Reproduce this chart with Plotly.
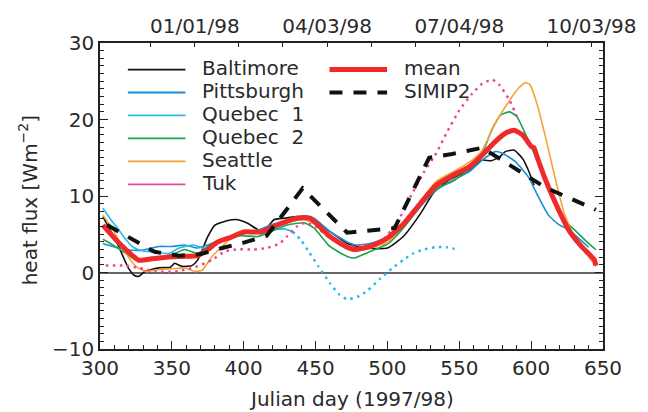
import plotly.graph_objects as go

# ---------------- data ----------------
balt_day = [302, 312, 320, 324, 327, 331, 341, 349, 352, 357, 364, 368, 375, 380, 389, 396, 403, 410, 415, 421, 428, 437, 446, 460, 472, 484, 500, 511, 523, 532, 543, 557, 566, 572, 578, 582, 588, 594, 598, 602]
balt_val = [7.3, 3.8, 0.5, -0.4, -0.5, 0.1, 0.6, 0.7, 1.2, 0.8, 0.9, 1.65, 4.7, 6.2, 6.8, 6.9, 6.4, 5.6, 5.6, 6.9, 7.1, 7.3, 7.3, 5.35, 3.8, 3.2, 3.2, 4.7, 7.7, 10.4, 12.1, 13.4, 14.7, 14.6, 15.1, 15.8, 16.0, 14.9, 13.4, 11.4]

pitt_day = [302, 309, 318, 329, 341, 350, 359, 368, 375, 384, 396, 407, 419, 432, 442, 449, 460, 472, 478, 488, 500, 511, 525, 534, 546, 557, 566, 575, 580, 589, 598, 605, 612, 619, 626, 633, 640]
pitt_val = [3.8, 3.4, 3.0, 2.9, 3.4, 3.4, 3.6, 3.2, 3.6, 4.3, 4.9, 5.35, 6.2, 6.9, 7.4, 7.1, 5.35, 4.0, 3.6, 3.8, 4.5, 6.0, 9.05, 10.8, 12.1, 13.2, 14.7, 15.8, 15.6, 14.5, 12.5, 9.9, 7.5, 6.3, 5.6, 4.5, 3.3]

queb1_day = [302, 308, 313, 318, 323, 330, 340, 348, 355, 365, 375, 385, 400, 410, 420, 428, 434]
queb1_val = [8.4, 6.8, 5.6, 4.3, 3.3, 2.8, 2.6, 2.5, 3.2, 3.6, 3.0, 4.3, 5.1, 5.5, 5.6, 5.7, 5.35]
queb1_dot_day = [434, 440, 445, 452, 460, 466, 472, 479, 486, 495, 503, 511, 518, 525, 533, 541, 549]
queb1_dot_val = [5.35, 4.2, 2.8, 0.8, -1.4, -2.8, -3.5, -3.2, -2.4, -0.8, 0.5, 1.65, 2.5, 3.0, 3.3, 3.3, 3.0]

queb2_day = [302, 309, 318, 327, 336, 346, 352, 359, 368, 378, 387, 398, 410, 419, 430, 442, 449, 460, 472, 477, 488, 500, 511, 525, 535, 546, 559, 566, 573, 579, 585, 590, 598, 605, 612, 621, 630, 640, 645]
queb2_val = [4.35, 3.6, 2.5, 1.45, 1.9, 2.1, 2.5, 3.0, 2.5, 3.8, 4.3, 4.8, 4.7, 5.35, 6.2, 6.5, 5.8, 3.4, 2.1, 1.9, 2.75, 3.7, 5.8, 9.2, 11.0, 12.0, 13.8, 15.6, 18.8, 20.6, 21.0, 20.4, 17.3, 14.3, 10.8, 7.3, 5.6, 3.8, 3.0]

seat_day = [302, 309, 318, 325, 332, 341, 350, 359, 366, 371, 378, 385, 391, 400, 414, 428, 442, 450, 460, 472, 477, 488, 500, 511, 523, 534, 548, 559, 566, 575, 585, 591, 596, 599, 604, 610, 617, 623, 630, 640, 645]
seat_val = [7.5, 5.6, 2.5, 0.8, 0.15, 0.4, 0.5, 0.6, 0.15, 0.3, 2.1, 3.4, 4.5, 5.1, 5.6, 6.45, 6.9, 6.3, 4.5, 3.2, 2.75, 3.2, 3.9, 6.3, 9.3, 11.9, 13.4, 14.7, 16.0, 19.5, 22.5, 24.05, 24.8, 24.6, 22.1, 17.7, 12.1, 7.75, 4.7, 2.1, 0.8]

tuk_day = [304, 318, 327, 339, 352, 366, 378, 387, 396, 407, 416, 425, 430, 437, 443, 450, 460, 472, 482, 495, 500, 509, 516, 525, 534, 541, 550, 559, 566, 573, 578, 585, 590]
tuk_val = [0.9, 0.9, 0.6, 0.15, 0.1, 0.7, 1.65, 2.75, 3.05, 3.0, 3.2, 3.8, 4.7, 6.0, 6.5, 6.0, 4.5, 3.4, 3.5, 3.9, 4.9, 7.3, 9.9, 13.0, 15.6, 18.2, 21.2, 23.4, 24.7, 25.2, 24.5, 22.5, 20.4]

mean_day = [302, 311, 318, 327, 336, 346, 357, 368, 375, 382, 391, 400, 412, 423, 437, 446, 460, 472, 477, 488, 500, 511, 523, 534, 546, 557, 566, 575, 582, 588, 594, 600, 602, 604, 610, 617, 626, 635, 644, 645]
mean_val = [6.2, 4.3, 3.0, 1.6, 1.8, 2.0, 2.1, 2.2, 3.0, 4.0, 4.6, 5.3, 5.3, 6.2, 7.1, 7.1, 4.7, 3.3, 3.0, 3.4, 4.5, 6.3, 9.05, 11.4, 12.75, 13.8, 15.35, 17.1, 18.2, 18.6, 18.0, 16.5, 16.3, 15.2, 12.1, 9.05, 5.6, 3.4, 1.65, 0.9]

simip_day = [305, 320, 338, 355, 370, 385, 400, 416, 441, 472, 505, 529, 545, 566, 600, 610, 645]
simip_val = [6.2, 4.6, 2.7, 2.2, 2.4, 3.2, 3.9, 4.8, 11.0, 5.2, 5.8, 15.0, 15.5, 16.3, 12.3, 11.1, 8.2]

top_tick_days = [335.33, 366, 396.67, 427.33, 458, 488.67, 519.33, 550, 580.67, 611.33, 642]
top_tick_text = ["", "01/01/98", "", "", "04/03/98", "", "", "07/04/98", "", "", "10/03/98"]

names = ["Baltimore", "Pittsburgh", "Quebec  1", "Quebec  2", "Seattle", "Tuk"]
colors = ["#111111", "#1b8fd6", "#2bb8ec", "#16a64a", "#f6a236", "#e8489a"]
MEAN_C = "#ee2a2a"

FONT = "DejaVu Sans"
TXT = "#2a2a2a"

fig = go.Figure()

def thin(x, y, c, dash="solid", w=1.6):
    fig.add_trace(go.Scatter(x=x, y=y, mode="lines", showlegend=False,
                             line=dict(color=c, width=w, dash=dash, shape="spline", smoothing=0.5),
                             hoverinfo="skip"))

thin(balt_day, balt_val, colors[0])
thin(pitt_day, pitt_val, colors[1])
thin(queb1_day, queb1_val, colors[2])
thin(queb1_dot_day, queb1_dot_val, colors[2], dash="2.5px,4.5px", w=2.5)
thin(queb2_day, queb2_val, colors[3])
thin(seat_day, seat_val, colors[4])
thin(tuk_day, tuk_val, colors[5], dash="2.5px,4.5px", w=2.5)

fig.add_trace(go.Scatter(x=mean_day, y=mean_val, mode="lines", showlegend=False,
                         line=dict(color=MEAN_C, width=5, shape="spline", smoothing=0.5), hoverinfo="skip"))
fig.add_trace(go.Scatter(x=simip_day, y=simip_val, mode="lines", showlegend=False,
                         line=dict(color="#111111", width=4, dash="13px,11px"), hoverinfo="skip"))

# dummy trace to activate the top axis
fig.add_trace(go.Scatter(x=[300, 650], y=[None, None], xaxis="x2", showlegend=False, hoverinfo="skip"))

# ---------------- layout geometry (px) ----------------
W, H = 648, 412
L, R, T, B = 99.5, 608.5, 42.7, 349.3
pw, ph = R - L, B - T

def px_x(px):
    return (px - L) / pw

def px_y(py):
    return (B - py) / ph

shapes = []
annotations = []

# legend, column 1
for i, (n, c) in enumerate(zip(names, colors)):
    yy = 69.3 + 23.0 * i
    shapes.append(dict(type="line", xref="paper", yref="paper",
                       x0=px_x(127.7), x1=px_x(186), y0=px_y(yy), y1=px_y(yy),
                       line=dict(color=c, width=1.8)))
    annotations.append(dict(xref="paper", yref="paper", x=px_x(201), y=px_y(yy - 1.5),
                            xanchor="left", yanchor="middle", showarrow=False, text=n,
                            font=dict(family=FONT, size=20, color=TXT)))
# legend, column 2
for i, (n, c, w, d) in enumerate([("mean", MEAN_C, 5, "solid"), ("SIMIP2", "#111111", 4, "13px,11px")]):
    yy = 69.3 + 23.0 * i
    shapes.append(dict(type="line", xref="paper", yref="paper",
                       x0=px_x(331.7), x1=px_x(390), y0=px_y(yy), y1=px_y(yy),
                       line=dict(color=c, width=w, dash=d)))
    annotations.append(dict(xref="paper", yref="paper", x=px_x(405), y=px_y(yy - 1.5),
                            xanchor="left", yanchor="middle", showarrow=False, text=n,
                            font=dict(family=FONT, size=20, color=TXT)))

# axis titles
annotations.append(dict(xref="paper", yref="paper", x=px_x(354), y=px_y(399),
                        xanchor="center", yanchor="middle", showarrow=False,
                        text="Julian day (1997/98)", font=dict(family=FONT, size=20, color=TXT)))
annotations.append(dict(xref="paper", yref="paper", x=px_x(27), y=px_y(200),
                        xanchor="center", yanchor="middle", showarrow=False, textangle=-90,
                        text="heat flux [Wm<sup>−2</sup>]", font=dict(family=FONT, size=20, color=TXT)))

fig.update_layout(
    width=W, height=H,
    margin=dict(l=L, r=W - R, t=T, b=H - B),
    paper_bgcolor="white", plot_bgcolor="white",
    font=dict(family=FONT, size=20, color=TXT),
    showlegend=False,
    shapes=shapes, annotations=annotations,
    xaxis=dict(range=[300, 650], dtick=50, tick0=300, ticks="inside", ticklen=8, tickwidth=1.2,
               tickcolor="#222", showline=True, linecolor="#222", linewidth=1.5, mirror=True,
               showgrid=False, zeroline=False,
               minor=dict(dtick=10, tick0=300, ticks="inside", ticklen=4, tickwidth=1, tickcolor="#222", showgrid=False),
               tickfont=dict(family=FONT, size=20, color=TXT)),
    xaxis2=dict(overlaying="x", side="top", range=[300, 650], tickmode="array",
                tickvals=top_tick_days, ticktext=top_tick_text, ticks="inside", ticklen=4,
                tickwidth=1.2, tickcolor="#222", showline=False, showgrid=False, zeroline=False,
                ticklabelstandoff=5,
                tickfont=dict(family=FONT, size=20, color=TXT)),
    yaxis=dict(range=[-10, 30], dtick=10, tick0=0, ticks="inside", ticklen=8, tickwidth=1.2,
               tickcolor="#222", showline=True, linecolor="#222", linewidth=1.5, mirror="ticks",
               showgrid=False, zeroline=True, zerolinecolor="#666666", zerolinewidth=1.5,
               minor=dict(dtick=1, ticks="inside", ticklen=4, tickwidth=1, tickcolor="#222", showgrid=False),
               tickfont=dict(family=FONT, size=20, color=TXT)),
)

fig.write_html("out.html", config={"displayModeBar": False},
               post_script="document.body.style.margin='0px';document.body.style.overflow='hidden';")
